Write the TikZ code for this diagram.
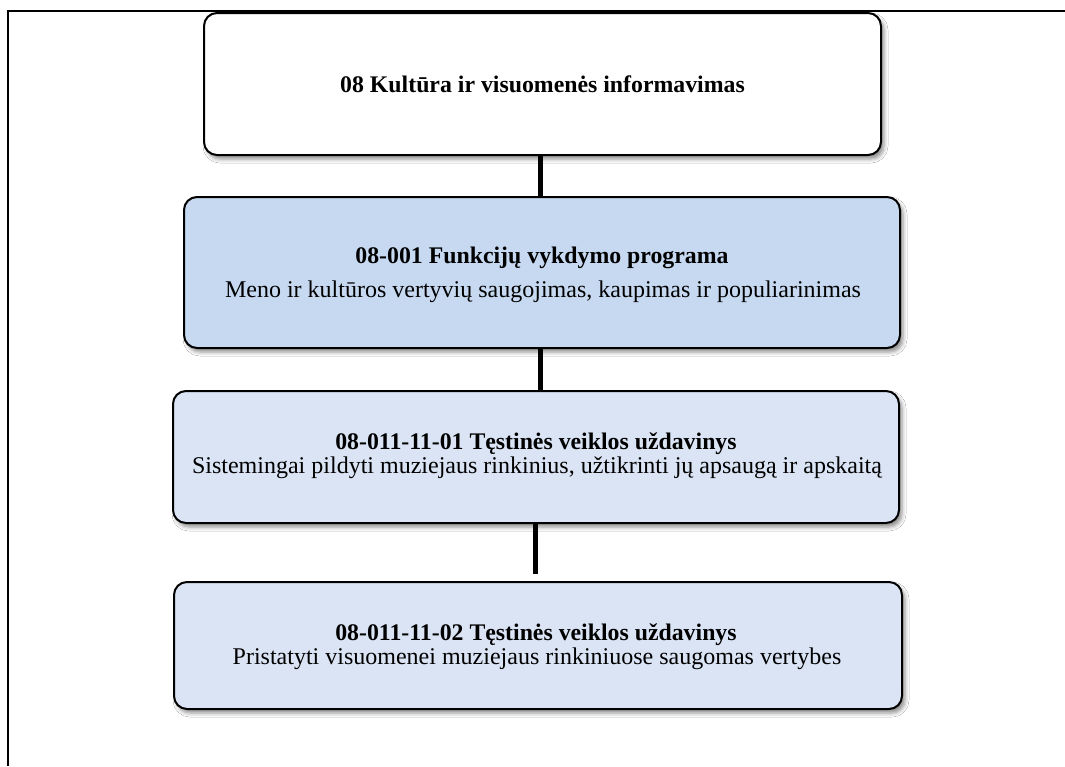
\documentclass[tikz,border=0pt]{standalone}
\usepackage{fontspec}
\setmainfont{Liberation Serif}
\usetikzlibrary{shadows.blur}
\definecolor{boxblue}{RGB}{198,217,241}
\definecolor{boxlight}{RGB}{219,228,244}
\begin{document}
\begin{tikzpicture}[x=1pt,y=-1pt,
  box/.style={draw=black, line width=2pt, rounded corners=13pt, inner sep=0pt,
    blur shadow={shadow xshift=3pt, shadow yshift=-4pt, shadow blur radius=4pt, shadow opacity=45}},
  ttl/.style={anchor=base, inner sep=0pt, font=\fontsize{23.8}{28}\selectfont\bfseries},
  sub/.style={anchor=base, inner sep=0pt, font=\fontsize{24}{28}\selectfont},
  conn/.style={line width=5pt},
  frame/.style={line width=1.5pt}]
\useasboundingbox (0,0) rectangle (1065,766);
\fill[white] (0,0) rectangle (1065,766);
% outer frame
\coordinate (fl) at (8,766);
\coordinate (ftl) at (8,11);
\coordinate (ftr) at (1065,11);
\draw[frame] (fl) -- (ftl) -- (ftr);
% boxes
\node[box, fill=white, minimum width=677pt, minimum height=142pt] (b1) at (542.5,84) {};
\node[box, fill=boxblue, minimum width=716pt, minimum height=151pt] (b2) at (542,272.5) {};
\node[box, fill=boxlight, minimum width=726pt, minimum height=132pt] (b3) at (536,457) {};
\node[box, fill=boxlight, minimum width=728pt, minimum height=127pt] (b4) at (538,645.5) {};
% texts
\node[ttl] (t1) at (542.5,92) {08 Kultūra ir visuomenės informavimas};
\node[ttl] (t2a) at (542,263) {08-001 Funkcijų vykdymo programa};
\node[sub] (t2b) at (543,297) {Meno ir kultūros vertyvių saugojimas, kaupimas ir populiarinimas};
\node[ttl] (t3a) at (536,449) {08-011-11-01 Tęstinės veiklos uždavinys};
\node[sub] (t3b) at (537,473) {Sistemingai pildyti muziejaus rinkinius, užtikrinti jų apsaugą ir apskaitą};
\node[ttl] (t4a) at (536,640) {08-011-11-02 Tęstinės veiklos uždavinys};
\node[sub] (t4b) at (537,664) {Pristatyti visuomenei muziejaus rinkiniuose saugomas vertybes};
% connectors
\coordinate (c4end) at (535.5,574);
\draw[conn] (b1.south -| 540.5,0) -- (b2.north -| 540.5,0);
\draw[conn] (b2.south -| 540.5,0) -- (b3.north -| 540.5,0);
\draw[conn] (b3.south -| c4end) -- (c4end);
\end{tikzpicture}
\end{document}
